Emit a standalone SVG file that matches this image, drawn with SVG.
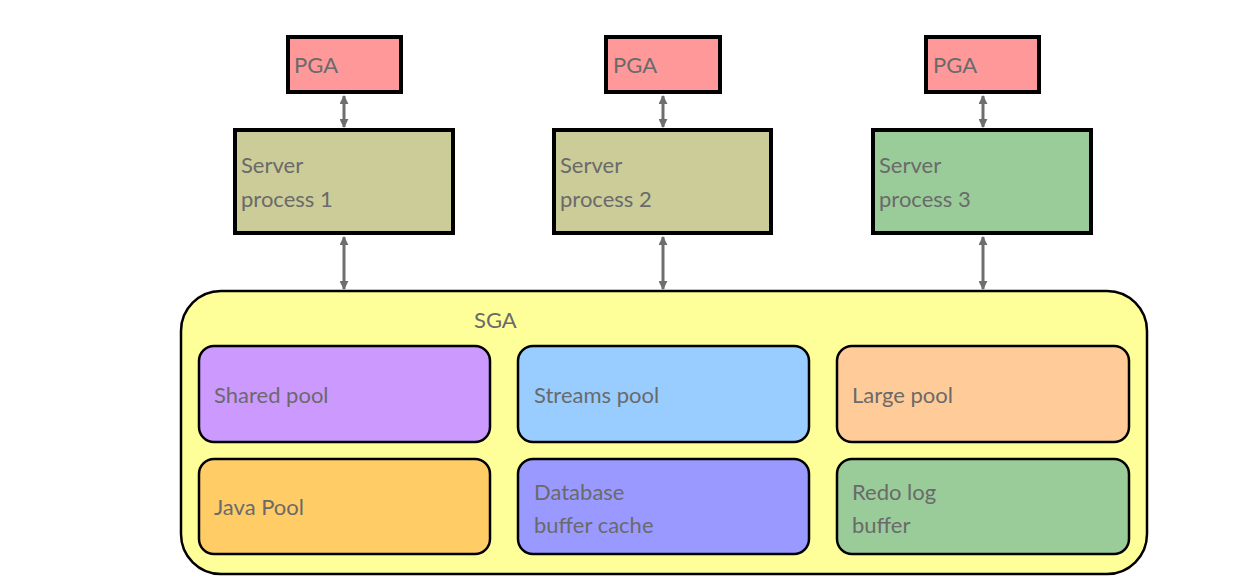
<svg xmlns="http://www.w3.org/2000/svg" width="1246" height="588" viewBox="0 0 1246 588">
<defs>
<style>
.t{font-family:Lato,"Open Sans",sans-serif;font-size:22px;fill:#6a6a6a}
.box{stroke:#000;stroke-width:4}
.pool{stroke:#000;stroke-width:2.5}
.c{stroke:#6e6e6e;stroke-width:3;fill:none;marker-start:url(#a);marker-end:url(#a)}
</style>
<marker id="a" viewBox="0 0 10 10" refX="9" refY="5" markerWidth="3" markerHeight="3" orient="auto-start-reverse"><path d="M0,0L10,5L0,10z" fill="#6e6e6e"/></marker>
</defs>
<rect width="1246" height="588" fill="#fff"/>
<g id="connectors">
<line class="c" x1="344" y1="96" x2="344" y2="127"/>
<line class="c" x1="663" y1="96" x2="663" y2="127"/>
<line class="c" x1="983" y1="96" x2="983" y2="127"/>
<line class="c" x1="344" y1="237" x2="344" y2="289"/>
<line class="c" x1="663" y1="237" x2="663" y2="289"/>
<line class="c" x1="983" y1="237" x2="983" y2="289"/>
</g>
<g id="pga1"><rect class="box" x="288" y="37" width="113" height="55" fill="#ff9999"/><text class="t" x="294" y="73">PGA</text></g>
<g id="pga2"><rect class="box" x="606" y="37" width="114" height="55" fill="#ff9999"/><text class="t" x="613" y="73">PGA</text></g>
<g id="pga3"><rect class="box" x="926" y="37" width="113" height="55" fill="#ff9999"/><text class="t" x="933" y="73">PGA</text></g>
<g id="server1"><rect class="box" x="235" y="130" width="218" height="103" fill="#cccc99"/><text class="t" x="241" y="173">Server</text><text class="t" x="241" y="207">process 1</text></g>
<g id="server2"><rect class="box" x="554" y="130" width="217" height="103" fill="#cccc99"/><text class="t" x="560" y="173">Server</text><text class="t" x="560" y="207">process 2</text></g>
<g id="server3"><rect class="box" x="873" y="130" width="218" height="103" fill="#99cc99"/><text class="t" x="879" y="173">Server</text><text class="t" x="879" y="207">process 3</text></g>
<g id="sga"><rect x="181" y="291" width="966" height="283" rx="40" fill="#ffff99" stroke="#000" stroke-width="2.5"/><text class="t" x="474" y="328">SGA</text></g>
<g id="shared"><rect class="pool" x="199" y="346" width="291" height="96" rx="15" fill="#cc99ff"/><text class="t" x="214" y="403">Shared pool</text></g>
<g id="streams"><rect class="pool" x="518" y="346" width="291" height="96" rx="15" fill="#99ccff"/><text class="t" x="534" y="403">Streams pool</text></g>
<g id="large"><rect class="pool" x="837" y="346" width="292" height="96" rx="15" fill="#ffcc99"/><text class="t" x="852" y="403">Large pool</text></g>
<g id="java"><rect class="pool" x="199" y="459" width="291" height="95" rx="15" fill="#ffcc66"/><text class="t" x="214" y="515">Java Pool</text></g>
<g id="dbcache"><rect class="pool" x="518" y="459" width="291" height="95" rx="15" fill="#9999ff"/><text class="t" x="534" y="500">Database</text><text class="t" x="534" y="533">buffer cache</text></g>
<g id="redo"><rect class="pool" x="837" y="459" width="292" height="95" rx="15" fill="#99cc99"/><text class="t" x="852" y="500">Redo log</text><text class="t" x="852" y="533">buffer</text></g>
</svg>
